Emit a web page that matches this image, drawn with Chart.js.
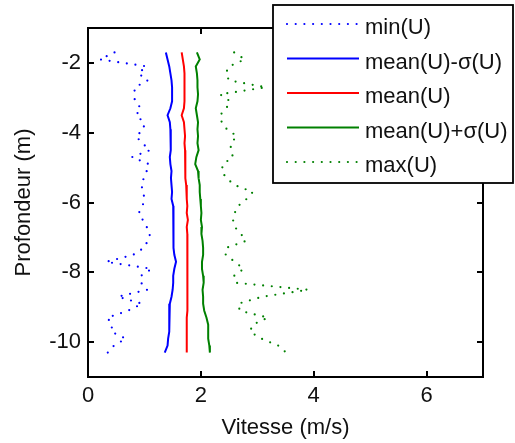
<!DOCTYPE html>
<html>
<head>
<meta charset="utf-8">
<script src="https://cdn.jsdelivr.net/npm/chart.js@4.4.0/dist/chart.umd.min.js"></script>
<style>
html, body { margin: 0; padding: 0; background: #fff; }
</style>
</head>
<body>
<canvas id="profil" width="515" height="443"></canvas>
<script>
// Profils de vitesse sur la verticale : min, moyenne +/- écart-type, max
const POLICE = '"Liberation Sans", Arial, sans-serif';

const profondeurs = [-1.7, -1.9, -2.1, -2.3, -2.5, -2.7, -2.9, -3.1, -3.3, -3.5, -3.7,
    -3.9, -4.1, -4.3, -4.5, -4.7, -4.9, -5.1, -5.3, -5.5, -5.7, -5.9,
    -6.1, -6.3, -6.5, -6.7, -6.9, -7.1, -7.3, -7.5, -7.7, -7.9, -8.1,
    -8.3, -8.5, -8.7, -8.9, -9.1, -9.3, -9.5, -9.7, -9.9, -10.1, -10.3];

const uMin = [0.47, 0.21, 1.04, 0.89, 1.06, 0.83, 0.82, 0.83, 0.94, 0.85, 0.99,
    0.99, 0.85, 0.96, 1.10, 0.78, 1.08, 1.04, 0.99, 0.94, 0.99, 0.99,
    0.97, 0.90, 0.97, 1.04, 1.10, 1.06, 0.99, 0.80, 0.32, 1.13, 0.94,
    0.94, 1.05, 0.53, 0.96, 0.71, 0.34, 0.43, 0.41, 0.67, 0.46, 0.35];

const uMoinsSigma = [1.38, 1.41, 1.44, 1.46, 1.48, 1.49, 1.49, 1.49, 1.46, 1.41, 1.45,
    1.46, 1.47, 1.46, 1.47, 1.45, 1.46, 1.48, 1.47, 1.48, 1.49, 1.48,
    1.51, 1.52, 1.52, 1.52, 1.51, 1.51, 1.51, 1.53, 1.56, 1.53, 1.51,
    1.51, 1.50, 1.48, 1.45, 1.44, 1.44, 1.44, 1.44, 1.42, 1.41, 1.36];

const uMoy = [1.66, 1.68, 1.70, 1.71, 1.71, 1.71, 1.71, 1.71, 1.70, 1.66, 1.70,
    1.71, 1.72, 1.71, 1.72, 1.72, 1.73, 1.72, 1.73, 1.74, 1.75, 1.75,
    1.76, 1.75, 1.77, 1.75, 1.76, 1.77, 1.76, 1.76, 1.76, 1.76, 1.76,
    1.76, 1.76, 1.76, 1.77, 1.76, 1.75, 1.75, 1.75, 1.75, 1.75, 1.75];

const uPlusSigma = [1.93, 1.98, 1.91, 1.93, 1.94, 1.94, 1.95, 1.94, 1.91, 1.93, 1.95,
    1.94, 1.95, 1.94, 1.96, 1.92, 1.90, 1.95, 1.96, 1.98, 1.98, 1.99,
    2.00, 2.01, 2.00, 2.02, 2.01, 2.03, 2.04, 2.04, 2.02, 2.02, 2.04,
    2.05, 2.03, 2.04, 2.04, 2.06, 2.10, 2.13, 2.13, 2.13, 2.15, 2.16];

const uMax = [2.59, 2.78, 2.50, 2.44, 2.50, 3.15, 2.34, 2.52, 2.45, 2.34, 2.37,
    2.46, 2.64, 2.53, 2.53, 2.57, 2.39, 2.37, 2.45, 2.60, 2.92, 2.81,
    2.66, 2.60, 2.57, 2.60, 2.71, 2.80, 2.45, 2.44, 2.60, 2.76, 2.59,
    2.62, 3.90, 3.09, 2.66, 2.69, 3.19, 2.92, 2.87, 3.07, 3.37, 3.51];

const ticksX = [0, 2, 4, 6];
const ticksY = [-10, -8, -6, -4, -2];
const libelles = ['min(U)', 'mean(U)-σ(U)', 'mean(U)', 'mean(U)+σ(U)', 'max(U)'];

function enPoints(valeurs) {
    return valeurs.map((v, i) => ({ x: v, y: profondeurs[i] }));
}

// pointillé façon MATLAB ':' (des petits points ronds)
const pointille = { borderDash: [0, 8.7], borderCapStyle: 'round', borderWidth: 2.2 };
const continu = { borderWidth: 2 };

// Cadre fermé avec graduations vers l'intérieur + légende en haut à droite
const cadreEtLegende = {
    id: 'cadreEtLegende',
    afterDraw(chart) {
        const { ctx, chartArea: a, scales } = chart;
        ctx.save();
        ctx.strokeStyle = '#000';
        ctx.lineWidth = 2;
        ctx.setLineDash([]);
        ctx.strokeRect(a.left, a.top, a.right - a.left, a.bottom - a.top);

        ctx.beginPath();
        scales.x.ticks.forEach(t => {
            const px = Math.round(scales.x.getPixelForValue(t.value));
            ctx.moveTo(px, a.bottom); ctx.lineTo(px, a.bottom - 6);
            ctx.moveTo(px, a.top); ctx.lineTo(px, a.top + 6);
        });
        scales.y.ticks.forEach(t => {
            const py = Math.round(scales.y.getPixelForValue(t.value));
            ctx.moveTo(a.left, py); ctx.lineTo(a.left + 6, py);
            ctx.moveTo(a.right, py); ctx.lineTo(a.right - 6, py);
        });
        ctx.stroke();

        // légende
        const bx = 273, by = 5, bw = 240, bh = 178;
        ctx.fillStyle = '#fff';
        ctx.fillRect(bx, by, bw, bh);
        ctx.lineWidth = 1.8;
        ctx.strokeRect(bx, by, bw, bh);

        ctx.font = '22px ' + POLICE;
        ctx.textBaseline = 'alphabetic';
        ctx.textAlign = 'left';
        chart.data.datasets.forEach((ds, i) => {
            const y = 24 + i * 34.5;
            ctx.beginPath();
            ctx.strokeStyle = ds.borderColor;
            ctx.lineWidth = ds.borderWidth;
            ctx.lineCap = ds.borderCapStyle || 'butt';
            ctx.setLineDash(ds.borderDash || []);
            ctx.moveTo(287, y);
            ctx.lineTo(359, y);
            ctx.stroke();
            ctx.setLineDash([]);
            ctx.fillStyle = '#111';
            ctx.fillText(ds.label, 365, y + 10);
        });
        ctx.restore();
    }
};

new Chart(document.getElementById('profil'), {
    type: 'scatter',
    data: {
        datasets: [
            { label: libelles[0], data: enPoints(uMin), borderColor: '#0000ff', ...pointille },
            { label: libelles[1], data: enPoints(uMoinsSigma), borderColor: '#0000ff', ...continu },
            { label: libelles[2], data: enPoints(uMoy), borderColor: '#ff0000', ...continu },
            { label: libelles[3], data: enPoints(uPlusSigma), borderColor: '#008000', ...continu },
            { label: libelles[4], data: enPoints(uMax), borderColor: '#008000', ...pointille }
        ]
    },
    options: {
        responsive: false,
        animation: false,
        devicePixelRatio: 1,
        showLine: true,
        layout: { padding: { top: 28, right: 32, left: 0, bottom: 0 } },
        elements: { point: { radius: 0, hoverRadius: 0 }, line: { tension: 0, fill: false } },
        plugins: { legend: { display: false }, tooltip: { enabled: false } },
        scales: {
            x: {
                type: 'linear', min: 0, max: 7,
                afterBuildTicks: s => { s.ticks = ticksX.map(v => ({ value: v })); },
                afterFit: s => { s.height = 66; },
                grid: { display: false, drawTicks: false },
                border: { display: false },
                ticks: { color: '#111', padding: 6, font: { family: POLICE, size: 22 } },
                title: { display: true, text: 'Vitesse (m/s)', color: '#111', padding: { top: 0, bottom: 2 }, font: { family: POLICE, size: 22 } }
            },
            y: {
                type: 'linear', min: -11, max: -1,
                afterBuildTicks: s => { s.ticks = ticksY.map(v => ({ value: v })); },
                afterFit: s => { s.width = 88; },
                grid: { display: false, drawTicks: false },
                border: { display: false },
                ticks: { color: '#111', padding: 7, font: { family: POLICE, size: 22 } },
                title: { display: true, text: 'Profondeur (m)', color: '#111', padding: { top: 11, bottom: 0 }, font: { family: POLICE, size: 22 } }
            }
        }
    },
    plugins: [cadreEtLegende]
});
</script>
</body>
</html>
